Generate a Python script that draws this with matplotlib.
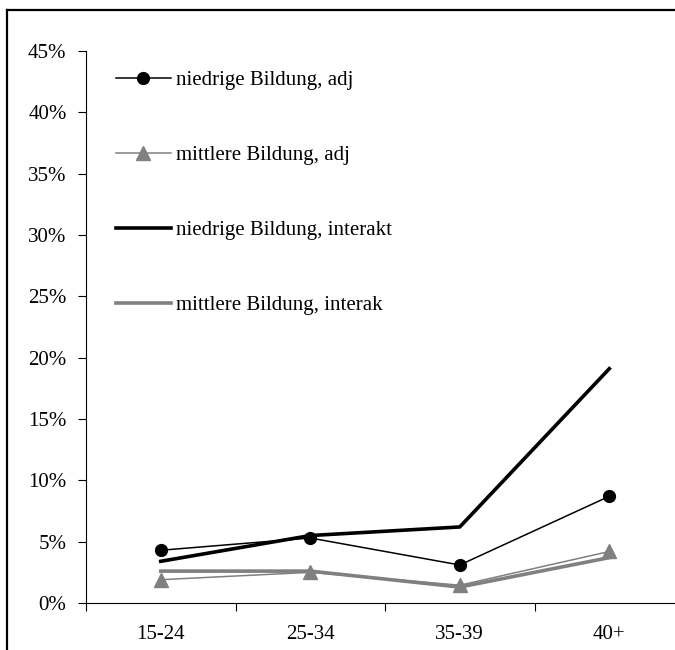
import numpy as np
import matplotlib
matplotlib.use("Agg")
import matplotlib.pyplot as plt
from matplotlib.lines import Line2D
from matplotlib.ticker import FuncFormatter

plt.rcParams['font.family'] = ['Liberation Serif', 'DejaVu Serif']

groups = ["15-24", "25-34", "35-39", "40+"]
niedrige_adj = [4.3, 5.3, 3.1, 8.7]
mittlere_adj = [1.9, 2.5, 1.45, 4.2]
niedrige_interakt = [3.4, 5.5, 6.2, 19.1]
mittlere_interak = [2.6, 2.6, 1.3, 3.7]
labels = ["niedrige Bildung, adj", "mittlere Bildung, adj",
          "niedrige Bildung, interakt", "mittlere Bildung, interak"]

gray = "#808080"
x = np.arange(len(groups))

fig = plt.figure(figsize=(6.75, 6.5), dpi=100)
ax = fig.add_axes([0.1274, 0.0723, 0.886, 0.8492])

ax.plot(x, niedrige_adj, color="black", lw=1.1, marker="o", ms=8.5, label=labels[0])
ax.plot(x, mittlere_adj, color=gray, lw=1.1, marker="^", ms=9.5, label=labels[1])
ax.plot(x, niedrige_interakt, color="black", lw=2.6, label=labels[2])
ax.plot(x, mittlere_interak, color=gray, lw=2.6, label=labels[3])

ax.set_xlim(-0.5, 3.5)
ax.set_ylim(0, 45)
ax.set_yticks(np.arange(0, 46, 5))
ax.yaxis.set_major_formatter(FuncFormatter(lambda v, p: f"{v:.0f}%"))
ax.set_xticks(x)
ax.set_xticklabels(groups)
ax.set_xticks(np.arange(-0.5, 3.6, 1), minor=True)
ax.tick_params(axis="x", which="major", length=0, pad=16, labelsize=15)
ax.tick_params(axis="x", which="minor", length=6, width=0.8, direction="out")
ax.tick_params(axis="y", length=6, width=0.8, pad=8, labelsize=15)

for s in ["top", "right"]:
    ax.spines[s].set_visible(False)
for s in ["left", "bottom"]:
    ax.spines[s].set_linewidth(0.8)

ax.legend(loc="upper left", bbox_to_anchor=(0.157, 0.908), bbox_transform=fig.transFigure,
          frameon=False, fontsize=15, handlelength=2.6, handletextpad=0.28,
          labelspacing=2.67, borderpad=0)

# outer chart border (left and top edges visible)
fig.add_artist(Line2D([0.011, 0.011], [0, 0.985], transform=fig.transFigure,
                      color="black", lw=1.6))
fig.add_artist(Line2D([0.011, 1.0], [0.985, 0.985], transform=fig.transFigure,
                      color="black", lw=1.6))

fig.savefig("out.png", dpi=100)
